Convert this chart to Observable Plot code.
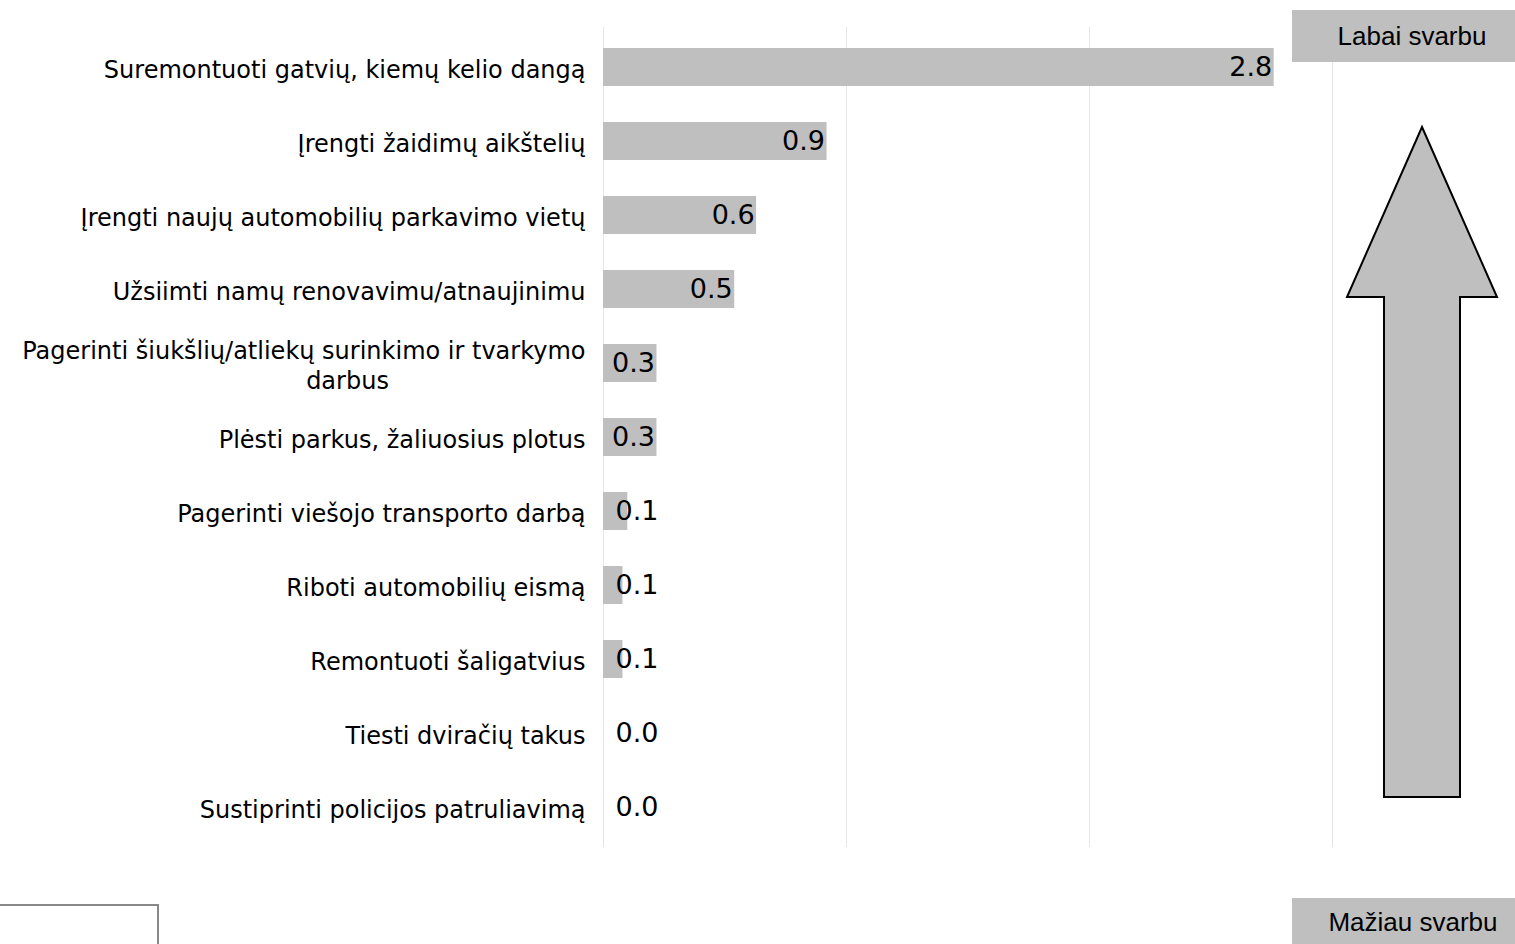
<!DOCTYPE html>
<html>
<head>
<meta charset="utf-8">
<script src="https://cdn.jsdelivr.net/npm/d3@7"></script>
<script src="https://cdn.jsdelivr.net/npm/@observablehq/plot@0.6"></script>
<style>
  html, body { margin: 0; padding: 0; background: #fff; }
  #chart svg { display: block; }
</style>
</head>
<body>
<div id="chart"></div>
<script>
const categories = [
  "Suremontuoti gatvių, kiemų kelio dangą",
  "Įrengti žaidimų aikštelių",
  "Įrengti naujų automobilių parkavimo vietų",
  "Užsiimti namų renovavimu/atnaujinimu",
  "Pagerinti šiukšlių/atliekų surinkimo ir tvarkymo darbus",
  "Plėsti parkus, žaliuosius plotus",
  "Pagerinti viešojo transporto darbą",
  "Riboti automobilių eismą",
  "Remontuoti šaligatvius",
  "Tiesti dviračių takus",
  "Sustiprinti policijos patruliavimą"
];
const values = [2.76, 0.92, 0.63, 0.54, 0.22, 0.22, 0.1, 0.08, 0.08, 0, 0];
const valueLabels = [2.8, 0.9, 0.6, 0.5, 0.3, 0.3, 0.1, 0.1, 0.1, 0.0, 0.0];
const xTicks = [0, 1, 2, 3];
const topLabel = "Labai svarbu";
const bottomLabel = "Mažiau svarbu";

const data = categories.map((c, i) => ({category: c, value: values[i], label: valueLabels[i].toFixed(1)}));

function wrap(s) {
  if (s.length <= 45) return s;
  const cut = s.lastIndexOf(" ", 48);
  return s.slice(0, cut) + "\n" + s.slice(cut + 1);
}

const W = 1515, H = 944;
const font = "'DejaVu Sans', Verdana, sans-serif";

const plot = Plot.plot({
  width: W,
  height: H,
  marginTop: 27,
  marginBottom: 97,
  marginLeft: 603,
  marginRight: 183,
  style: {fontFamily: font, background: "#fff", overflow: "visible"},
  x: {domain: [0, 3], axis: null},
  y: {domain: categories, axis: null, paddingInner: 0.49, paddingOuter: 0.245},
  marks: [
    Plot.ruleX(xTicks, {stroke: "#e6e6e6", strokeWidth: 1}),
    Plot.barX(data, {x: "value", y: "category", fill: "#bfbfbf"}),
    Plot.text(data, {
      x: 0, y: "category", text: d => wrap(d.category),
      textAnchor: "end", dx: -18, dy: 1, fontSize: 24, fill: "#000", lineHeight: 1.25
    }),
    Plot.text(data.filter(d => d.value >= 0.2), {
      x: "value", y: "category", text: "label",
      textAnchor: "end", dx: -2, dy: 0, fontSize: 27, fill: "#000"
    }),
    Plot.text(data.filter(d => d.value < 0.2), {
      x: 0, y: "category", text: "label",
      textAnchor: "start", dx: 12, dy: 0, fontSize: 27, fill: "#000"
    })
  ]
});

document.getElementById("chart").appendChild(plot);

// Center the wrapped second line like the original
const svg = d3.select(plot);
svg.selectAll("text").each(function() {
  const ts = d3.select(this).selectAll("tspan");
  if (ts.size() === 2) {
    const second = d3.select(ts.nodes()[1]);
    second.attr("x", -238).attr("text-anchor", "middle");
  }
});

// Decorations on the right
const deco = svg.append("g").attr("font-family", "'Liberation Sans', Arial, sans-serif");
deco.append("rect").attr("x", 1292).attr("y", 10).attr("width", 230).attr("height", 52).attr("fill", "#bfbfbf");
deco.append("text").attr("x", 1412).attr("y", 36).attr("dy", "0.35em")
  .attr("text-anchor", "middle").attr("font-size", 26).attr("fill", "#000").text(topLabel);

deco.append("polygon")
  .attr("points", "1422,127 1497,297 1460,297 1460,797 1384,797 1384,297 1347,297")
  .attr("fill", "#bfbfbf").attr("stroke", "#000").attr("stroke-width", 2);

deco.append("rect").attr("x", 1292).attr("y", 898).attr("width", 230).attr("height", 60).attr("fill", "#bfbfbf");
deco.append("text").attr("x", 1413).attr("y", 922).attr("dy", "0.35em")
  .attr("text-anchor", "middle").attr("font-size", 26).attr("fill", "#000").text(bottomLabel);

deco.append("rect").attr("x", -5).attr("y", 905).attr("width", 163).attr("height", 60)
  .attr("fill", "none").attr("stroke", "#888").attr("stroke-width", 2);
</script>
</body>
</html>
